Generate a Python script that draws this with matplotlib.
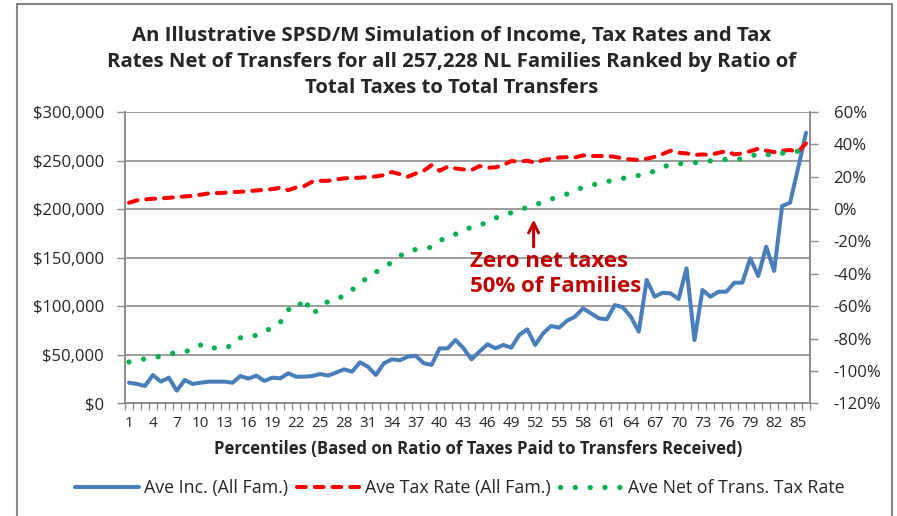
#!/usr/bin/env python3
# SPSD/M illustration: income and tax rates by percentile
import numpy as np
import matplotlib
matplotlib.use("Agg")
import matplotlib.pyplot as plt
from matplotlib.patches import Rectangle
from matplotlib.ticker import FuncFormatter

plt.rcParams['font.family'] = ['Open Sans', 'DejaVu Sans']

percentiles = list(range(1, 87))

ave_income = [21200, 19900, 17800, 29100, 22300, 26400, 13000, 24000, 19900, 21200,
              22300, 22300, 22300, 21200, 28100, 25400, 28500, 23000, 26400, 25700,
              30900, 27400, 27400, 28100, 30200, 28500, 31600, 35000, 32600, 42200,
              37700, 29200, 41200, 45300, 44300, 48000, 49000, 41200, 39600, 56600,
              56600, 65200, 56600, 45300, 53200, 60800, 56600, 60100, 57300, 70400,
              76200, 60100, 72100, 79600, 77900, 85100, 89200, 97800, 92700, 87500,
              86500, 101200, 98900, 89200, 73800, 127000, 109800, 113900, 113200, 107400,
              139000, 65200, 116700, 109800, 114900, 114900, 124200, 124200, 149300, 131100,
              161300, 136300, 203200, 206600, 242000, 278700]

ave_tax_rate = [3.9, 5.4, 6.0, 6.4, 6.6, 7.0, 7.4, 7.8, 8.2, 8.9,
                9.7, 9.9, 10.1, 10.5, 10.7, 11.1, 11.5, 11.9, 12.4, 13.2,
                11.7, 13.4, 14.2, 16.9, 17.5, 17.5, 18.3, 19.0, 19.2, 19.4,
                19.8, 20.2, 21.0, 22.9, 21.6, 20.0, 22.0, 23.7, 27.2, 23.7,
                26.2, 25.1, 24.5, 24.1, 26.6, 25.5, 25.8, 27.2, 29.7, 29.3,
                29.9, 28.6, 30.3, 31.1, 31.9, 32.1, 31.9, 33.2, 32.8, 32.8,
                32.8, 32.3, 31.3, 30.7, 30.3, 31.1, 32.3, 34.0, 36.1, 34.8,
                34.4, 33.4, 33.8, 33.4, 34.8, 35.8, 33.8, 34.4, 35.8, 37.3,
                36.1, 35.2, 36.1, 36.5, 35.4, 40.6]

net_tax_rate = [-94.5, -93.5, -92.5, -91.8, -91.0, -89.6, -88.5, -88.0, -87.0, -84.0,
                -86.5, -85.5, -86.0, -84.0, -79.5, -78.6, -78.0, -76.4, -72.5, -70.0,
                -62.0, -62.5, -55.0, -65.0, -61.0, -57.0, -55.0, -54.0, -50.0, -46.0,
                -42.0, -39.0, -35.6, -33.0, -29.0, -26.0, -25.0, -24.5, -23.5, -19.5,
                -17.5, -15.5, -12.5, -11.5, -10.5, -7.5, -5.5, -4.0, -2.2, -0.4,
                1.0, 2.5, 4.5, 6.2, 7.7, 9.3, 11.3, 13.5, 14.8, 15.8,
                17.0, 18.0, 19.0, 20.0, 20.8, 22.0, 23.5, 26.0, 27.5, 28.0,
                28.3, 28.6, 29.2, 29.8, 30.5, 30.7, 30.3, 31.2, 32.3, 34.5,
                33.8, 33.0, 34.5, 35.3, 35.8, 37.0]

x_labels = [str(p) for p in percentiles[::3]]

title_lines = ["An Illustrative SPSD/M Simulation of Income, Tax Rates and Tax",
               "Rates Net of Transfers for all 257,228 NL Families Ranked by Ratio of",
               "Total Taxes to Total Transfers"]

GRAY = '#8c8c8c'
TXT = '#262626'

fig = plt.figure(figsize=(8.97, 5.16), dpi=100)
ax = fig.add_axes([125/897, 1-403.3/516, 685/897, 291.3/516])
ax2 = ax.twinx()

# left axis: income
l1, = ax.plot(percentiles, ave_income, color='#4a7ebb', lw=2.9,
              solid_joinstyle='round', solid_capstyle='round', zorder=3)
ax.set_xlim(0.5, 86.5)
ax.set_ylim(0, 300000)
ax.set_yticks(np.arange(0, 300001, 50000))
ax.yaxis.set_major_formatter(FuncFormatter(lambda v, p: '${:,.0f}'.format(v)))
ax.grid(axis='y', color=GRAY, lw=1.2)
ax.set_axisbelow(True)

# x ticks: marks between categories, labels every 3rd
ax.set_xticks(np.arange(0.5, 87, 1))
ax.set_xticklabels([])
ax.set_xticks(percentiles[::3], minor=True)
ax.set_xticklabels(x_labels, minor=True)
ax.tick_params(axis='x', which='major', length=5, color=GRAY, width=1)
ax.tick_params(axis='x', which='minor', length=0, pad=9, labelsize=11, labelcolor=TXT)
ax.tick_params(axis='y', length=6, color=GRAY, width=1, labelsize=12, labelcolor=TXT, pad=9)

# right axis: tax rates
l2, = ax2.plot(percentiles, ave_tax_rate, color='#ff0000', lw=2.9,
               dash_capstyle='round', zorder=3)
l2.set_dashes((2.2, 2.2))
l3, = ax2.plot(percentiles, net_tax_rate, color='#00b050', lw=3.8,
               dash_capstyle='round', zorder=3)
l3.set_dashes((0.01, 2.8))
ax2.set_ylim(-120, 60)
ax2.set_yticks(np.arange(-120, 61, 20))
ax2.yaxis.set_major_formatter(FuncFormatter(lambda v, p: '{:.0f}%'.format(v)))
ax2.tick_params(axis='y', length=6, color=GRAY, width=1, labelsize=12, labelcolor=TXT, pad=11)

for a in (ax, ax2):
    a.spines['top'].set_visible(False)
    for s in ('left', 'right', 'bottom'):
        a.spines[s].set_color(GRAY)
        a.spines[s].set_linewidth(1.2)

ax.set_xlabel("Percentiles (Based on Ratio of Taxes Paid to Transfers Received)",
              fontsize=12.1, fontweight='bold', color=TXT, labelpad=9)
ax.xaxis.set_label_coords(0.515, -0.125)

# annotation
ax2.annotate('', xy=(51.8, -4.7), xytext=(51.8, -25),
             arrowprops=dict(arrowstyle='->', color='#c00000', lw=2.2, mutation_scale=18))
ax2.text(43.8, -40, "Zero net taxes\n50% of Families", color='#c00000', fontsize=16,
         fontweight='bold', va='center', ha='left', linespacing=1.25)

# title
for i, line in enumerate(title_lines):
    fig.text(452/897, 1 - (36 + 26*i)/516, line, ha='center', va='center',
             fontsize=14.7, fontweight='bold', color=TXT)

# legend
leg = fig.legend([l1, l2, l3],
                 ["Ave Inc. (All Fam.)", "Ave Tax Rate (All Fam.)", "Ave Net of Trans. Tax Rate"],
                 loc='center', bbox_to_anchor=(460/897, 1-488/516), ncol=3, frameon=False,
                 fontsize=12.8, handlelength=3.6, handletextpad=0.25, columnspacing=0.5)
for t in leg.get_texts():
    t.set_color(TXT)

# chart border
fig.patches.append(Rectangle((17/897, -0.02), 875/897, 1.02 - 4/516, transform=fig.transFigure,
                             fill=False, edgecolor='#868686', lw=1.5))

plt.savefig('out.png', dpi=100)
